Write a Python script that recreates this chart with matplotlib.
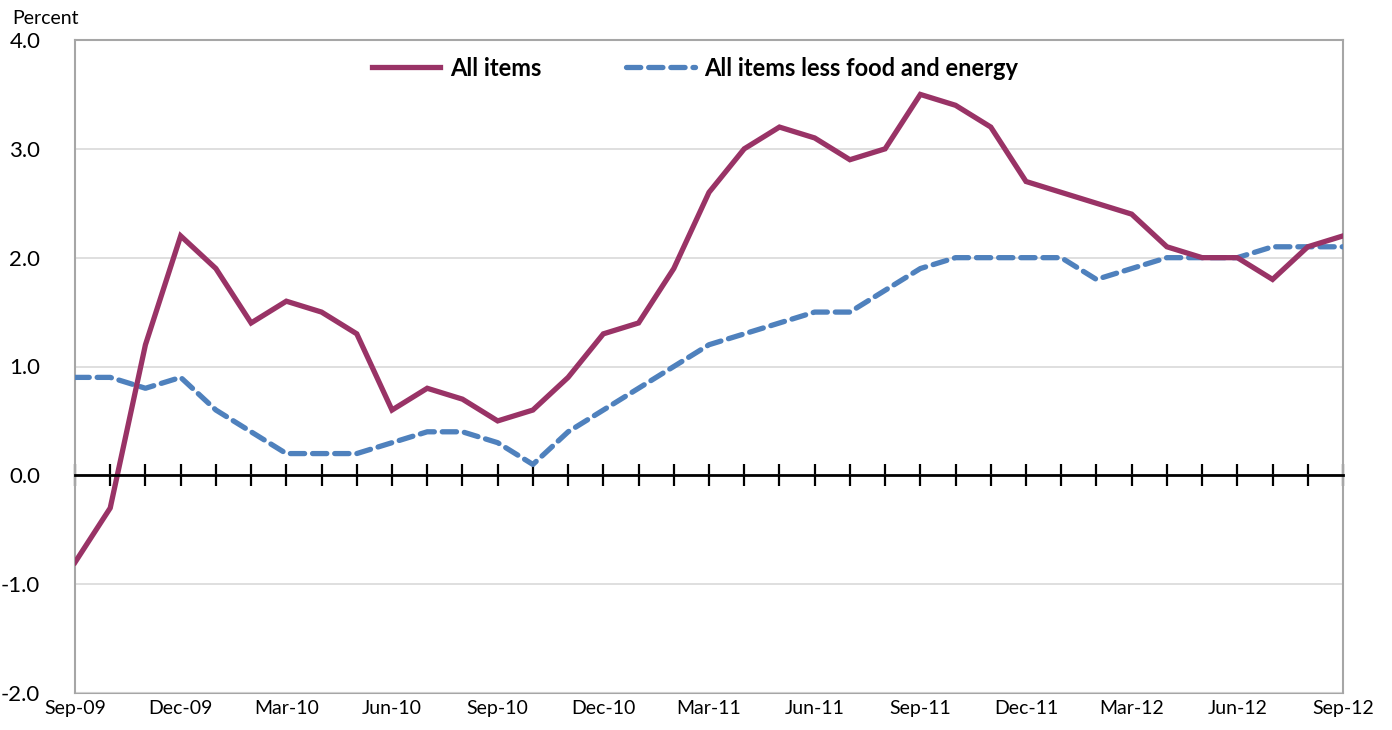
import numpy as np
import matplotlib.pyplot as plt
from matplotlib.ticker import FixedLocator

plt.rcParams['font.family'] = ['Lato', 'DejaVu Sans']

months = ['Sep-09', 'Oct-09', 'Nov-09', 'Dec-09', 'Jan-10', 'Feb-10', 'Mar-10', 'Apr-10',
          'May-10', 'Jun-10', 'Jul-10', 'Aug-10', 'Sep-10', 'Oct-10', 'Nov-10', 'Dec-10',
          'Jan-11', 'Feb-11', 'Mar-11', 'Apr-11', 'May-11', 'Jun-11', 'Jul-11', 'Aug-11',
          'Sep-11', 'Oct-11', 'Nov-11', 'Dec-11', 'Jan-12', 'Feb-12', 'Mar-12', 'Apr-12',
          'May-12', 'Jun-12', 'Jul-12', 'Aug-12', 'Sep-12']

all_items = [-0.8, -0.3, 1.2, 2.2, 1.9, 1.4, 1.6, 1.5, 1.3, 0.6, 0.8, 0.7, 0.5, 0.6,
             0.9, 1.3, 1.4, 1.9, 2.6, 3.0, 3.2, 3.1, 2.9, 3.0, 3.5, 3.4, 3.2, 2.7,
             2.6, 2.5, 2.4, 2.1, 2.0, 2.0, 1.8, 2.1, 2.2]

core = [0.9, 0.9, 0.8, 0.9, 0.6, 0.4, 0.2, 0.2, 0.2, 0.3, 0.4, 0.4, 0.3, 0.1,
        0.4, 0.6, 0.8, 1.0, 1.2, 1.3, 1.4, 1.5, 1.5, 1.7, 1.9, 2.0, 2.0, 2.0,
        2.0, 1.8, 1.9, 2.0, 2.0, 2.0, 2.1, 2.1, 2.1]

yticks = [-2.0, -1.0, 0.0, 1.0, 2.0, 3.0, 4.0]

x = np.arange(len(months))

fig = plt.figure(figsize=(13.92, 7.30), dpi=100)
ax = fig.add_axes([75 / 1392, 37 / 730, 1268 / 1392, 653 / 730])

ax.plot(x, all_items, color='#993366', lw=3.8, label='All items', zorder=4,
        solid_joinstyle='miter')
ax.plot(x, core, color='#4F81BD', lw=3.8, ls=(0, (2.7, 1.5)), label='All items less food and energy',
        zorder=3, dash_capstyle='round')

ax.set_xlim(0, len(months) - 1)
ax.set_ylim(-2.0, 4.0)
ax.set_yticks(yticks)
ax.set_yticklabels(['%.1f' % v for v in yticks], fontsize=16)
ax.tick_params(axis='y', length=0, pad=25)
ax.grid(axis='y', color='#D9D9D9', lw=1.2, zorder=0)

# zero line with crossing month ticks
ax.spines['bottom'].set_position(('data', 0))
ax.spines['bottom'].set_color('black')
ax.spines['bottom'].set_linewidth(2)
ax.spines['bottom'].set_zorder(5)
ax.xaxis.set_major_locator(FixedLocator(x))
ax.tick_params(axis='x', direction='inout', length=16, width=1.6, color='black', labelbottom=False)

for s in ['left', 'right', 'top']:
    ax.spines[s].set_color('#A6A6A6')
    ax.spines[s].set_linewidth(1.5)

sec = ax.secondary_xaxis('bottom')
sec.set_xticks(x[::3])
sec.set_xticklabels(months[::3], fontsize=14)
sec.tick_params(length=0, pad=5)
sec.spines['bottom'].set_color('#A6A6A6')
sec.spines['bottom'].set_linewidth(1.5)

leg = ax.legend(loc='upper center', bbox_to_anchor=(0.489, 1.007), ncol=2, frameon=False,
                handlelength=2.9, columnspacing=3.6, handletextpad=0.4,
                prop={'weight': 'bold', 'size': 17})

fig.text(12 / 1392, 1 - 18 / 730, 'Percent', fontsize=14, va='center', ha='left')

fig.savefig('out.png', dpi=100)
